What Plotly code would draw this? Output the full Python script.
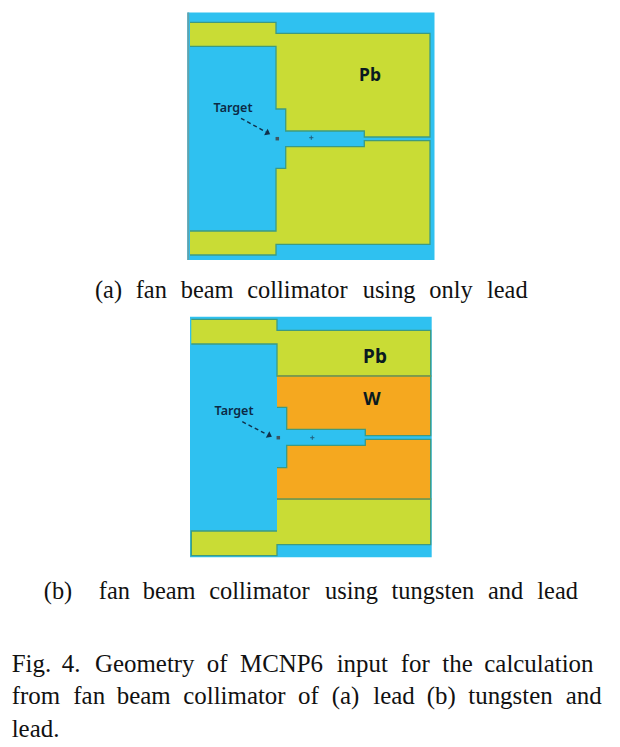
import plotly.graph_objects as go

BLUE = "#2FC1F0"; LEAD = "#C9DC35"; TUNG = "#F5A81F"; EDGE = "#3E9A80"; EDGE2 = "#8F9A3C"

# Geometry, in picture pixels
bg_a_x = [187.5, 434.5, 434.5, 187.5]
bg_a_y = [12.5, 12.5, 260, 260]
stripe_a_x = [188.2, 188.2]
stripe_a_y = [12.5, 260]
pb_a_up_x = [190, 276, 276, 430, 430, 364.3, 364.3, 285.7, 285.7, 276, 276, 190]
pb_a_up_y = [22.3, 22.3, 33.3, 33.3, 137, 137, 131, 131, 109, 109, 46.3, 46.3]
pb_a_lo_x = [190, 276, 276, 285.7, 285.7, 364.3, 364.3, 430, 430, 276, 276, 190]
pb_a_lo_y = [231, 231, 168.3, 168.3, 146.7, 146.7, 140.7, 140.7, 244.3, 244.3, 255, 255]

bg_b_x = [190, 431.7, 431.7, 190]
bg_b_y = [316.7, 316.7, 557.3, 557.3]
pb_b_up_x = [191.3, 277, 277, 430.7, 430.7, 277, 277, 191.3]
pb_b_up_y = [319.3, 319.3, 330.3, 330.3, 376, 376, 344, 344]
w_b_up_x = [277, 430.7, 430.7, 365.3, 365.3, 286.7, 286.7, 277]
w_b_up_y = [376, 376, 435.7, 435.7, 429.3, 429.3, 407.3, 407.3]
w_b_lo_x = [277, 286.7, 286.7, 365.3, 365.3, 430.7, 430.7, 277]
w_b_lo_y = [467.7, 467.7, 445.3, 445.3, 439.3, 439.3, 499, 499]
pb_b_lo_x = [277, 430.7, 430.7, 277, 277, 191.3, 191.3, 277]
pb_b_lo_y = [499, 499, 544.7, 544.7, 555.7, 555.7, 531, 531]
seam_up_x = [277, 430.7]; seam_up_y = [376, 376]
seam_lo_x = [277, 430.7]; seam_lo_y = [499, 499]

arrow_a_x = [241, 266]; arrow_a_y = [118.3, 132]
arrow_b_x = [242.3, 267]; arrow_b_y = [421.7, 434.5]
head_x = [267.3, 269]; head_y = [132.8, 435.3]
dot_x = [277.3, 278.3]; dot_y = [138.7, 437.7]
plus_x = [311.3, 312.3]; plus_y = [137.7, 437.7]

label_big = ["Pb", "Pb", "W"]
label_big_size = [17.5, 19, 18]
label_big_x = [370, 375, 372]; label_big_y = [76.5, 358, 400.5]
label_tgt = ["Target", "Target"]
label_tgt_x = [233, 234]; label_tgt_y = [108.5, 411.5]

# Caption words with their left edges (the original lines are justified)
cap_1_words = ["(a)", "fan", "beam", "collimator", "using", "only", "lead"]
cap_1_x = [95, 135.7, 180.7, 247.3, 362.7, 429.3, 487]
cap_2_words = ["(b)", "fan", "beam", "collimator", "using", "tungsten", "and", "lead"]
cap_2_x = [43.8, 98.8, 142.7, 209.3, 325, 391.6, 488, 537.3]
cap_3_words = ["Fig.", "4.", "Geometry", "of", "MCNP6", "input", "for", "the", "calculation"]
cap_3_x = [11.7, 61.7, 95, 206.7, 240, 336.7, 400.7, 442.3, 484.3]
cap_4_words = ["from", "fan", "beam", "collimator", "of", "(a)", "lead", "(b)", "tungsten", "and"]
cap_4_x = [11.7, 73.3, 116.7, 183.3, 298, 331.7, 373.3, 426.7, 468.3, 565.7]
cap_5_words = ["lead."]
cap_5_x = [11.7]
cap_rows = [(cap_1_words, cap_1_x, 291.5, 24.4), (cap_2_words, cap_2_x, 592.5, 24.4),
            (cap_3_words, cap_3_x, 666, 24.9), (cap_4_words, cap_4_x, 698, 24.9), (cap_5_words, cap_5_x, 731, 24.9)]

fig = go.Figure()

def poly(x, y, fill, line=EDGE, w=1.3):
    fig.add_trace(go.Scatter(x=x, y=y, mode="lines", fill="toself", fillcolor=fill,
                             line=dict(color=line, width=w), hoverinfo="skip", showlegend=False))

poly(bg_a_x, bg_a_y, BLUE, BLUE, 0)
fig.add_trace(go.Scatter(x=stripe_a_x, y=stripe_a_y, mode="lines",
                         line=dict(color="#5FA3AE", width=2), hoverinfo="skip", showlegend=False))
poly(pb_a_up_x, pb_a_up_y, LEAD)
poly(pb_a_lo_x, pb_a_lo_y, LEAD)
poly(bg_b_x, bg_b_y, BLUE, BLUE, 0)
poly(pb_b_up_x, pb_b_up_y, LEAD)
poly(pb_b_lo_x, pb_b_lo_y, LEAD)
poly(w_b_up_x, w_b_up_y, TUNG, EDGE)
poly(w_b_lo_x, w_b_lo_y, TUNG, EDGE)
for sx, sy in [(seam_up_x, seam_up_y), (seam_lo_x, seam_lo_y)]:
    fig.add_trace(go.Scatter(x=sx, y=sy, mode="lines", line=dict(color=EDGE2, width=1.5),
                             hoverinfo="skip", showlegend=False))

for ax, ay in [(arrow_a_x, arrow_a_y), (arrow_b_x, arrow_b_y)]:
    fig.add_trace(go.Scatter(x=ax, y=ay, mode="lines", line=dict(color="#10304A", width=1.4, dash="4px,3px"),
                             hoverinfo="skip", showlegend=False))
fig.add_trace(go.Scatter(x=head_x, y=head_y, mode="markers",
                         marker=dict(symbol="triangle-up", size=6.5, color="#10304A", angle=118),
                         hoverinfo="skip", showlegend=False))
fig.add_trace(go.Scatter(x=dot_x, y=dot_y, mode="markers",
                         marker=dict(symbol="square", size=3.5, color="#3E5560"),
                         hoverinfo="skip", showlegend=False))
fig.add_trace(go.Scatter(x=plus_x, y=plus_y, mode="markers",
                         marker=dict(symbol="cross-thin", size=3, line=dict(color="#22617F", width=1)),
                         hoverinfo="skip", showlegend=False))

fig.add_trace(go.Scatter(x=label_big_x, y=label_big_y, text=label_big, mode="text", textposition="middle center",
                         textfont=dict(family="Noto Sans", size=label_big_size, color="#0A1A20", weight=700),
                         hoverinfo="skip", showlegend=False))
fig.add_trace(go.Scatter(x=label_tgt_x, y=label_tgt_y, text=label_tgt, mode="text", textposition="middle center",
                         textfont=dict(family="Noto Sans", size=12.5, color="#0C2A45", weight=600),
                         hoverinfo="skip", showlegend=False))
for words, xs, yy, fs in cap_rows:
    fig.add_trace(go.Scatter(x=xs, y=[yy] * len(xs), text=words, mode="text", textposition="middle right",
                             textfont=dict(family="Liberation Serif", size=fs, color="#111111"),
                             hoverinfo="skip", showlegend=False))

fig.update_layout(
    width=620, height=747, margin=dict(l=0, r=0, t=0, b=0),
    paper_bgcolor="white", plot_bgcolor="white", showlegend=False,
    xaxis=dict(range=[0, 620], visible=False, fixedrange=True),
    yaxis=dict(range=[747, 0], visible=False, fixedrange=True),
)
fig.write_html("out.html", config={"displayModeBar": False},
               default_width="620px", default_height="747px",
               post_script="document.body.style.margin='0';")
